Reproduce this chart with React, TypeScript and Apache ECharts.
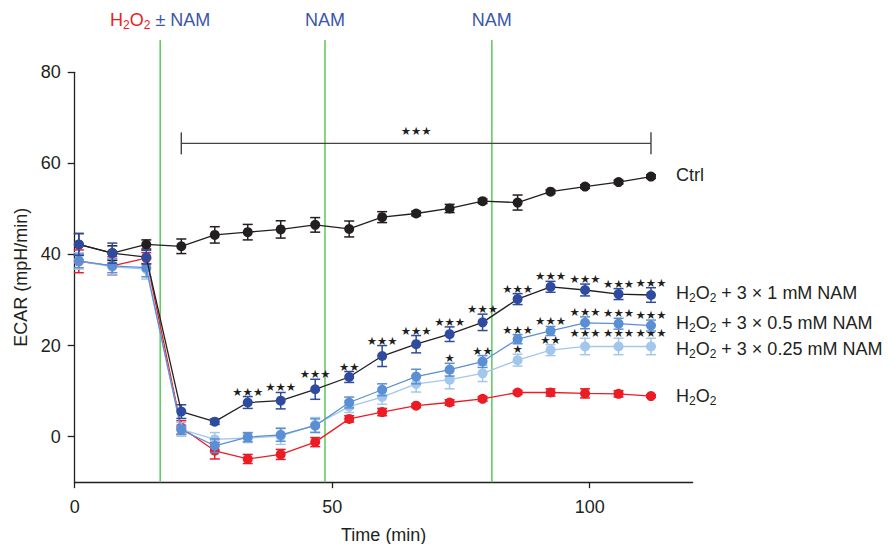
import React, { useEffect, useRef } from 'react';
import * as echarts from 'echarts';

// ---- data ----
const times = [0.8, 7.3, 13.9, 20.7, 27.2, 33.6, 40.0, 46.7, 53.3, 59.7, 66.3, 72.8, 79.2, 86.0, 92.4, 99.1, 105.6, 111.9];

const ctrl = [42.2, 40.3, 42.2, 41.8, 44.3, 44.9, 45.5, 46.5, 45.6, 48.2, 49.0, 50.1, 51.7, 51.4, 53.8, 54.9, 55.9, 57.1];
const ctrlErr = [2.4, 1.6, 1.0, 1.6, 1.8, 1.7, 1.9, 1.6, 1.75, 1.2, 0.5, 0.9, 0.5, 1.65, 0.4, 0.4, 0.4, 0.4];

const nam1 = [42.2, 40.3, 39.4, 5.5, 3.3, 7.5, 7.9, 10.4, 13.1, 17.7, 20.3, 22.5, 25.1, 30.2, 32.9, 32.2, 31.3, 31.1];
const nam1Err = [2.4, 2.2, 1.5, 1.5, 0.6, 1.3, 1.8, 2.2, 1.2, 2.3, 1.9, 1.6, 1.8, 1.2, 1.2, 1.3, 1.2, 1.6];
const nam1Stars = ['', '', '', '', '', '★★★', '★★★', '★★★', '★★', '★★★', '★★★', '★★★', '★★★', '★★★', '★★★', '★★★', '★★★', '★★★'];

const nam05 = [38.6, 37.5, 37.1, 1.5, -2.0, -0.1, 0.4, 2.4, 7.5, 10.3, 13.2, 14.7, 16.5, 21.4, 23.2, 25.0, 24.8, 24.4];
const nam05Err = [1.5, 1.5, 2.0, 1.0, 1.5, 1.0, 1.4, 1.5, 1.2, 1.3, 1.6, 1.4, 1.3, 1.0, 1.0, 1.3, 1.2, 1.2];
const nam05Stars = ['', '', '', '', '', '', '', '', '', '', '', '★', '★★', '★★★', '★★★', '★★★', '★★★', '★★★'];

const nam025 = [38.6, 37.3, 36.8, 1.6, -0.6, -0.3, 0.1, 2.6, 6.6, 8.7, 11.6, 12.5, 13.9, 16.8, 19.0, 19.8, 19.8, 19.8];
const nam025Err = [1.8, 1.8, 2.2, 1.5, 1.5, 1.0, 1.8, 1.6, 1.3, 1.6, 1.8, 2.0, 1.8, 1.3, 1.2, 1.8, 1.8, 1.8];
const nam025Stars = ['', '', '', '', '', '', '', '', '', '', '', '', '', '★', '★★', '★★★', '★★★', '★★★'];

const h2o2 = [38.5, 37.5, 39.2, 2.0, -3.1, -4.9, -3.9, -1.2, 3.9, 5.4, 6.8, 7.5, 8.3, 9.7, 9.7, 9.5, 9.4, 8.9];
const h2o2Err = [2.5, 2.0, 1.2, 1.5, 1.8, 1.0, 1.1, 1.0, 0.7, 0.8, 0.4, 0.6, 0.5, 0.4, 0.8, 1.0, 0.7, 0.3];
const noStars = times.map(() => '');

const treatmentTimes = [16.6, 48.6, 81.0];
const treatmentLabels = ['{r|H}{rs|2}{r|O}{rs|2}{b| ± NAM}', '{b|NAM}', '{b|NAM}'];

const bracket = [[20.7, 111.9, 64.4]];
const bracketText = '★★★';

const xTicks = [0, 50, 100];
const yTicks = [0, 20, 40, 60, 80];

// ---- style ----
const FONT = '"Liberation Sans", Arial, Helvetica, sans-serif';
const STAR_FONT = '"DejaVu Sans", sans-serif';
const INK = '#231f20';
const C_N1 = '#2f4b9f';
const C_N05 = '#5b8fd3';
const C_N025 = '#a3c6ec';
const C_RED = '#ec1c24';
const C_GREEN = '#5cc85c';
const C_NAM = '#3b56a8';

const labRich = {
  n: { fontSize: 18, fontFamily: FONT, color: INK, lineHeight: 22 },
  s: { fontSize: 12, fontFamily: FONT, color: INK, lineHeight: 12, verticalAlign: 'bottom' },
};

function starText(x: number, y: number, s: string) {
  return {
    type: 'text',
    x,
    y,
    z2: 100,
    style: { text: s, fill: INK, fontSize: 11.5, fontFamily: STAR_FONT, align: 'center', verticalAlign: 'middle' },
  };
}

function errSeries(vals: number[], errs: number[], stars: string[], color: string, z: number) {
  return {
    type: 'custom',
    z,
    clip: false,
    silent: true,
    data: times.map((t, i) => [t, vals[i], errs[i]]),
    encode: { x: 0, y: 1 },
    renderItem: (params: any, api: any) => {
      const x = api.value(0);
      const y = api.value(1);
      const e = api.value(2);
      const top = api.coord([x, y + e]);
      const bot = api.coord([x, y - e]);
      const st = { stroke: color, lineWidth: 1.5 };
      const hw = 5;
      const children: any[] = [
        { type: 'line', shape: { x1: top[0], y1: top[1], x2: bot[0], y2: bot[1] }, style: st },
        { type: 'line', shape: { x1: top[0] - hw, y1: top[1], x2: top[0] + hw, y2: top[1] }, style: st },
        { type: 'line', shape: { x1: bot[0] - hw, y1: bot[1], x2: bot[0] + hw, y2: bot[1] }, style: st },
      ];
      const s = stars[params.dataIndex];
      if (s) children.push(starText(top[0], top[1] - 5, s));
      return { type: 'group', children };
    },
  };
}

function lineSeries(name: string, vals: number[], color: string, lineColor: string, label: string, z: number, dy: number) {
  return {
    type: 'line',
    name,
    z,
    data: times.map((t, i) => [t, vals[i]]),
    symbol: 'circle',
    symbolSize: 10,
    itemStyle: { color },
    lineStyle: { color: lineColor, width: 1.3 },
    endLabel: {
      show: true,
      formatter: () => label,
      distance: 25,
      offset: [0, dy],
      color: INK,
      fontSize: 18,
      fontFamily: FONT,
      rich: labRich,
    },
  };
}

export default function App() {
  const ref = useRef<HTMLDivElement>(null);
  useEffect(() => {
    if (!ref.current) return;
    const chart = echarts.init(ref.current, undefined, { renderer: 'svg' });
    const option: any = {
      animation: false,
      backgroundColor: '#ffffff',
      textStyle: { fontFamily: FONT },
      grid: { left: 74.7, right: 198.3, top: 72.3, bottom: 61.8, outerBoundsMode: 'none', containLabel: false },
      xAxis: {
        type: 'value',
        min: 0,
        max: 120,
        interval: 50,
        name: 'Time (min)',
        nameLocation: 'middle',
        nameGap: 44,
        nameTextStyle: { fontSize: 18, fontFamily: FONT, color: INK },
        axisLine: { show: true, onZero: false, lineStyle: { color: INK, width: 1.3 } },
        axisTick: { show: true, inside: false, length: 6, customValues: xTicks, lineStyle: { color: INK, width: 1.3 } },
        axisLabel: { fontSize: 18, fontFamily: FONT, color: INK, margin: 16, customValues: xTicks },
        splitLine: { show: false },
      },
      yAxis: {
        type: 'value',
        min: -10,
        max: 80,
        name: 'ECAR (mpH/min)',
        nameLocation: 'middle',
        nameGap: 43,
        nameRotate: 90,
        nameTextStyle: { fontSize: 18, fontFamily: FONT, color: INK },
        axisLine: { show: true, onZero: false, lineStyle: { color: INK, width: 1.3 } },
        axisTick: { show: true, length: 7, customValues: yTicks, lineStyle: { color: INK, width: 1.3 } },
        axisLabel: { fontSize: 18, fontFamily: FONT, color: INK, margin: 14, customValues: yTicks },
        splitLine: { show: false },
      },
      series: [
        // green treatment lines + labels
        {
          type: 'custom',
          z: 1,
          clip: false,
          silent: true,
          data: treatmentTimes.map((t) => [t, -10]),
          encode: { x: 0, y: 1 },
          renderItem: (params: any, api: any) => {
            const t = api.value(0);
            const bot = api.coord([t, -10]);
            const top = api.coord([t, 87.1]);
            const lab = api.coord([t, 91.5]);
            return {
              type: 'group',
              children: [
                { type: 'line', shape: { x1: bot[0], y1: bot[1], x2: top[0], y2: top[1] }, style: { stroke: C_GREEN, lineWidth: 1.5 } },
                {
                  type: 'text',
                  x: lab[0],
                  y: lab[1],
                  style: {
                    text: treatmentLabels[params.dataIndex],
                    align: 'center',
                    verticalAlign: 'middle',
                    rich: {
                      r: { fontSize: 18, fontFamily: FONT, fill: C_RED, lineHeight: 22 },
                      rs: { fontSize: 12, fontFamily: FONT, fill: C_RED, lineHeight: 12, verticalAlign: 'bottom' },
                      b: { fontSize: 18, fontFamily: FONT, fill: C_NAM, lineHeight: 22 },
                    },
                  },
                },
              ],
            };
          },
        },
        // significance bracket
        {
          type: 'custom',
          z: 2,
          clip: false,
          silent: true,
          data: bracket,
          encode: { x: [0, 1], y: 2 },
          renderItem: (params: any, api: any) => {
            const a = api.coord([api.value(0), api.value(2)]);
            const b = api.coord([api.value(1), api.value(2)]);
            const st = { stroke: '#444444', lineWidth: 1.4 };
            const h = 11;
            return {
              type: 'group',
              children: [
                { type: 'line', shape: { x1: a[0], y1: a[1], x2: b[0], y2: b[1] }, style: st },
                { type: 'line', shape: { x1: a[0], y1: a[1] - h, x2: a[0], y2: a[1] + h }, style: st },
                { type: 'line', shape: { x1: b[0], y1: b[1] - h, x2: b[0], y2: b[1] + h }, style: st },
                starText((a[0] + b[0]) / 2, a[1] - 12.5, bracketText),
              ],
            };
          },
        },
        errSeries(ctrl, ctrlErr, noStars, INK, 3),
        lineSeries('Ctrl', ctrl, INK, INK, '{n|Ctrl}', 4, -2),
        errSeries(h2o2, h2o2Err, noStars, C_RED, 5),
        lineSeries('H2O2', h2o2, C_RED, C_RED, '{n|H}{s|2}{n|O}{s|2}', 6, 0),
        errSeries(nam025, nam025Err, nam025Stars, C_N025, 7),
        lineSeries('H2O2 + 3 × 0.25 mM NAM', nam025, C_N025, C_N025, '{n|H}{s|2}{n|O}{s|2}{n| + 3 × 0.25 mM NAM}', 8, 3),
        errSeries(nam05, nam05Err, nam05Stars, C_N05, 9),
        lineSeries('H2O2 + 3 × 0.5 mM NAM', nam05, C_N05, C_N05, '{n|H}{s|2}{n|O}{s|2}{n| + 3 × 0.5 mM NAM}', 10, -3),
        errSeries(nam1, nam1Err, nam1Stars, C_N1, 11),
        lineSeries('H2O2 + 3 × 1 mM NAM', nam1, C_N1, INK, '{n|H}{s|2}{n|O}{s|2}{n| + 3 × 1 mM NAM}', 12, -2),
      ],
    };
    chart.setOption(option);
    return () => chart.dispose();
  }, []);
  return <div ref={ref} style={{ position: 'fixed', left: 0, top: 0, width: 891, height: 544, background: '#fff' }} />;
}
